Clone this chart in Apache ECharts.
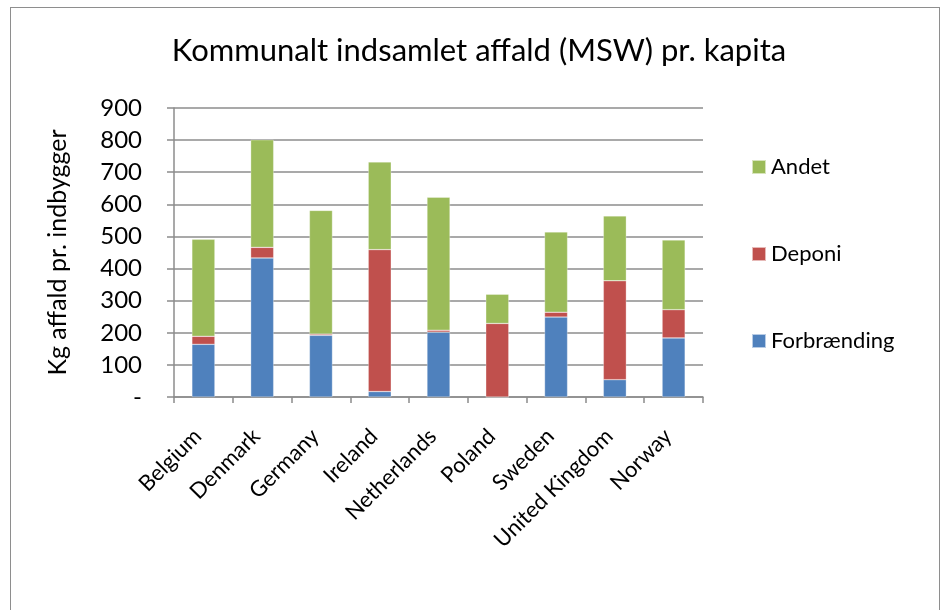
<!DOCTYPE html>
<html>
<head>
<meta charset="utf-8">
<script src="https://cdn.jsdelivr.net/npm/echarts@6/dist/echarts.min.js"></script>
<style>
  html, body { margin: 0; padding: 0; background: #fff; }
  #frame { position: absolute; left: 10px; top: 7px; width: 930px; height: 620px; border: 1px solid #8e8e8e; box-sizing: border-box; }
  #chart { position: absolute; left: 0; top: 0; width: 948px; height: 610px; }
</style>
</head>
<body>
<div id="frame"></div>
<div id="chart"></div>
<script>
  // Kommunalt indsamlet affald (MSW) pr. kapita, kg pr. indbygger
  const countries = ['Belgium', 'Denmark', 'Germany', 'Ireland', 'Netherlands', 'Poland', 'Sweden', 'United Kingdom', 'Norway'];
  const forbraending = [164, 433, 192, 17, 202, 0, 249, 54, 184];
  const deponi = [25, 33, 4, 442, 6, 229, 15, 308, 88];
  const andet = [302, 335, 385, 273, 414, 91, 250, 202, 217];

  const FONT = 'Lato, "Open Sans", sans-serif';
  const GRID = '#8c8c8c';

  const c = echarts.init(document.getElementById('chart'));
  const bar = (name, data, color) => ({
    name, type: 'bar', stack: 'total', data, barWidth: 23,
    itemStyle: { color, borderColor: 'rgba(255,255,255,0.6)', borderWidth: 0.5 },
  });

  c.setOption({
    animation: false,
    textStyle: { fontFamily: FONT, color: '#000' },
    title: {
      text: 'Kommunalt indsamlet affald (MSW) pr. kapita', left: 474, top: 30, textAlign: 'center',
      textStyle: { fontFamily: FONT, fontSize: 31, fontWeight: 'normal', color: '#000' },
    },
    legend: {
      orient: 'vertical', left: 746, top: 151, itemWidth: 14, itemHeight: 14, itemGap: 65,
      icon: 'rect', textStyle: { fontFamily: FONT, fontSize: 22, color: '#000' },
      data: ['Andet', 'Deponi', 'Forbrænding'],
    },
    grid: { left: 174, right: 245, top: 108, bottom: 213 },
    xAxis: {
      type: 'category', data: countries,
      axisLine: { lineStyle: { color: GRID, width: 1.5 } },
      axisTick: { show: true, length: 6, lineStyle: { color: GRID, width: 1.5 } },
      axisLabel: { rotate: 45, fontSize: 22, color: '#000', margin: 30, interval: 0, fontFamily: FONT, padding: [0, 8, 0, 0] },
    },
    yAxis: {
      type: 'value', min: 0, max: 900, interval: 100,
      name: 'Kg affald pr. indbygger', nameLocation: 'middle', nameGap: 104, nameRotate: 90,
      nameTextStyle: { fontFamily: FONT, fontSize: 25, color: '#000' },
      axisLine: { show: true, lineStyle: { color: GRID, width: 1.5 } },
      axisTick: { show: true, length: 7, lineStyle: { color: GRID, width: 1.5 } },
      splitLine: { lineStyle: { color: GRID, width: 1.5 } },
      axisLabel: { fontSize: 24, color: '#000', margin: 32, fontFamily: FONT, formatter: v => v === 0 ? '-' : String(v) },
    },
    series: [
      bar('Forbrænding', forbraending, '#4f81bd'),
      bar('Deponi', deponi, '#c0504d'),
      bar('Andet', andet, '#9bbb59'),
    ],
  });
</script>
</body>
</html>
